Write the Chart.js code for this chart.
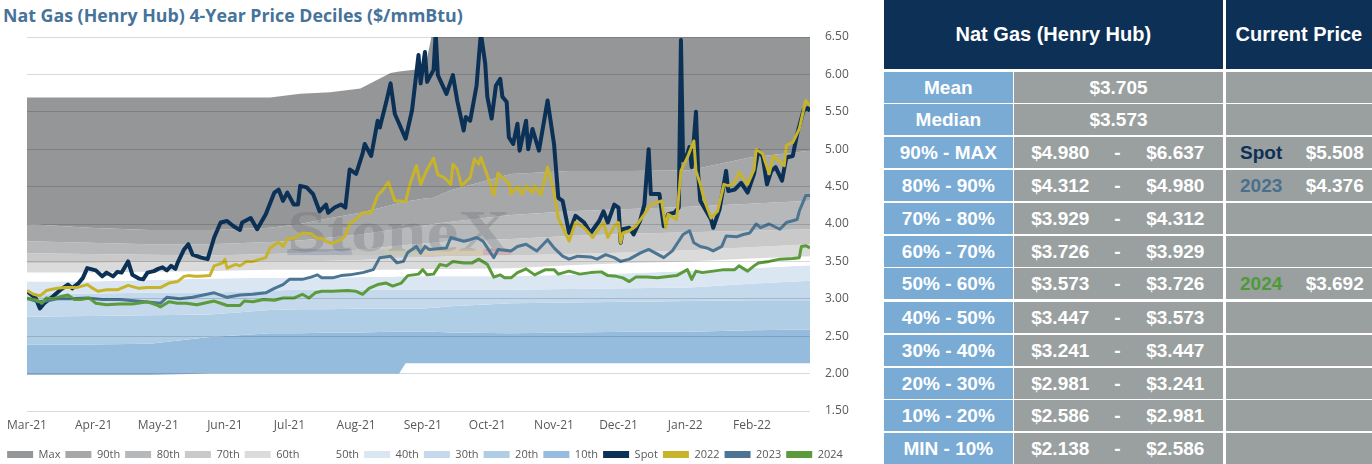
<!DOCTYPE html>
<html>
<head>
<meta charset="utf-8">
<script src="https://cdn.jsdelivr.net/npm/chart.js@4.4.1/dist/chart.umd.min.js"></script>
<style>
  body { margin: 0; width: 1372px; height: 464px; overflow: hidden; background: #fff; position: relative; }
  #title { position: absolute; left: 3px; top: 3px; font: 700 17.8px "Open Sans", sans-serif; color: #46739a; white-space: nowrap; }
  #chart-wrap { position: absolute; left: 0; top: 0; width: 860px; height: 472px; }
  .cell { position: absolute; box-sizing: border-box; color: #fff; font: bold 19px "Liberation Sans", Arial, sans-serif; text-align: center; white-space: nowrap; }
  .hdr { background: #0d3056; font-size: 20px; }
  .lbl { background: #79abd5; }
  .val { background: #9aa0a0; }
  .cell span { position: absolute; top: 0; text-align: center; }
</style>
</head>
<body>
<div id="title">Nat Gas (Henry Hub) 4-Year Price Deciles ($/mmBtu)</div>
<div id="chart-wrap"><canvas id="chart"></canvas></div>
<div id="table"></div>
<script>
// x values are days counted from 1 Mar 2021
const monthDays = [0, 31, 61, 92, 122, 153, 184, 214, 245, 275, 306, 337];
const monthLabels = ['Mar-21', 'Apr-21', 'May-21', 'Jun-21', 'Jul-21', 'Aug-21', 'Sep-21', 'Oct-21', 'Nov-21', 'Dec-21', 'Jan-22', 'Feb-22'];

// decile band boundaries
const bandDays = [0, 29, 57, 85, 113, 127, 141, 155, 169, 173, 176, 185, 189, 197, 225, 252, 280, 308, 336, 364];
const maxP = [5.69, 5.69, 5.69, 5.69, 5.69, 5.74, 5.76, 5.81, 6.02, 6.04, 6.05, 6.08, 6.64, 6.64, 6.64, 6.64, 6.64, 6.64, 6.64, 6.64];
const p90 = [4.00, 3.95, 3.92, 3.92, 3.95, 4.00, 4.08, 4.15, 4.25, 4.28, 4.30, 4.34, 4.35, 4.45, 4.67, 4.71, 4.71, 4.72, 4.89, 4.98];
const p80 = [3.77, 3.75, 3.73, 3.73, 3.76, 3.78, 3.82, 3.86, 3.92, 3.94, 3.95, 3.98, 4.00, 4.03, 4.12, 4.17, 4.20, 4.23, 4.27, 4.31];
const p70 = [3.61, 3.60, 3.59, 3.58, 3.60, 3.61, 3.63, 3.66, 3.70, 3.71, 3.72, 3.74, 3.75, 3.77, 3.80, 3.84, 3.87, 3.89, 3.91, 3.93];
const p60 = [3.48, 3.48, 3.49, 3.49, 3.50, 3.50, 3.51, 3.52, 3.54, 3.55, 3.55, 3.56, 3.56, 3.57, 3.58, 3.60, 3.62, 3.65, 3.69, 3.73];
const p50 = [3.35, 3.35, 3.36, 3.37, 3.39, 3.39, 3.39, 3.39, 3.39, 3.39, 3.40, 3.40, 3.40, 3.40, 3.41, 3.45, 3.48, 3.50, 3.54, 3.57];
const p40 = [3.23, 3.23, 3.25, 3.27, 3.28, 3.28, 3.28, 3.29, 3.29, 3.30, 3.30, 3.30, 3.30, 3.30, 3.30, 3.32, 3.34, 3.37, 3.41, 3.45];
const p30 = [3.06, 3.07, 3.08, 3.08, 3.11, 3.12, 3.12, 3.12, 3.12, 3.12, 3.12, 3.12, 3.12, 3.12, 3.12, 3.13, 3.14, 3.15, 3.20, 3.24];
const p20 = [2.76, 2.77, 2.78, 2.79, 2.85, 2.86, 2.86, 2.87, 2.87, 2.87, 2.87, 2.87, 2.88, 2.90, 2.94, 2.95, 2.96, 2.97, 2.98, 2.98];
const p10 = [2.39, 2.39, 2.40, 2.49, 2.54, 2.54, 2.55, 2.55, 2.56, 2.56, 2.56, 2.56, 2.56, 2.55, 2.54, 2.55, 2.56, 2.56, 2.58, 2.59];
const minP = [1.98, 1.98, 1.98, 2.00, 2.00, 2.00, 2.00, 2.00, 2.00, 2.00, 2.14, 2.14, 2.14, 2.14, 2.14, 2.14, 2.14, 2.14, 2.14, 2.14];

const bandNames = ['Max', '90th', '80th', '70th', '60th', '50th', '40th', '30th', '20th', '10th'];
const bandTops = [maxP, p90, p80, p70, p60, p50, p40, p30, p20, p10];
const bandColors = ['#959698', '#a6a7a9', '#b7b8b9', '#c9c9ca', '#dbdbdb', '#ffffff', '#dae6f2', '#c4d9ec', '#afcde4', '#96bcdd'];

// price lines, [day, $/mmBtu]
const spot = [[0,3.10],[4,3.01],[6,2.87],[8,2.94],[12,3.03],[16,3.13],[19,3.19],[21,3.14],[24,3.21],[26,3.28],[28,3.41],[32,3.38],[35,3.30],[37,3.35],[40,3.30],[42,3.36],[44,3.35],[47,3.50],[49,3.32],[52,3.27],[54,3.26],[56,3.35],[59,3.37],[61,3.40],[63,3.42],[65,3.38],[67,3.44],[69,3.40],[70,3.48],[73,3.66],[75,3.73],[77,3.59],[79,3.57],[81,3.55],[84,3.53],[87,3.82],[90,4.02],[93,4.04],[96,3.97],[99,3.92],[100,4.02],[104,4.08],[107,3.93],[111,4.13],[115,4.42],[117,4.46],[119,4.31],[121,4.42],[124,4.26],[126,4.26],[127,4.51],[130,4.49],[133,4.40],[136,4.17],[139,4.26],[140,4.15],[143,4.22],[146,4.26],[148,4.22],[150,4.73],[153,4.67],[156,4.94],[157,5.07],[160,4.91],[163,5.38],[164,5.29],[167,5.63],[169,5.88],[171,5.47],[173,5.34],[176,5.14],[179,5.52],[182,6.26],[183,5.88],[185,6.30],[186,5.90],[189,6.06],[190,6.55],[191,5.99],[195,5.74],[198,5.99],[200,5.65],[203,5.25],[204,5.43],[206,5.38],[209,5.85],[210,6.21],[211,6.55],[213,6.15],[214,5.70],[216,5.41],[218,5.85],[220,5.94],[221,5.70],[223,5.63],[224,5.16],[226,5.07],[228,5.34],[229,4.98],[232,5.38],[233,5.00],[235,5.27],[238,4.98],[242,5.65],[245,5.07],[247,4.35],[249,4.31],[252,3.88],[255,4.11],[259,4.02],[262,3.88],[266,4.04],[268,4.17],[270,4.02],[273,4.26],[275,4.22],[276,3.75],[277,3.93],[280,3.95],[282,3.86],[285,4.04],[287,4.26],[289,5.00],[290,4.40],[294,4.40],[296,3.97],[298,4.13],[301,4.15],[303,4.22],[304,6.46],[305,4.85],[307,4.94],[308,5.03],[309,4.76],[311,5.50],[312,4.67],[313,4.31],[318,4.06],[319,3.95],[322,4.20],[325,4.71],[326,4.44],[329,4.46],[332,4.55],[335,4.42],[338,4.67],[340,4.98],[342,4.90],[344,4.53],[346,4.71],[348,4.76],[351,4.58],[353,4.89],[356,4.91],[358,5.20],[361,5.52],[363,5.55],[364,5.51]];

const y2022 = [[0,3.11],[3,3.06],[6,3.04],[9,3.11],[14,3.14],[18,3.15],[23,3.15],[28,3.19],[30,3.15],[33,3.10],[37,3.12],[42,3.12],[47,3.18],[52,3.14],[56,3.15],[62,3.15],[66,3.21],[70,3.23],[73,3.30],[75,3.31],[78,3.30],[80,3.30],[85,3.31],[87,3.44],[91,3.48],[92,3.53],[93,3.41],[97,3.46],[99,3.44],[102,3.50],[105,3.50],[111,3.55],[113,3.68],[117,3.76],[119,3.70],[121,3.80],[125,3.82],[128,3.88],[132,3.87],[135,3.81],[137,3.81],[139,3.77],[142,3.74],[146,3.79],[148,3.85],[150,4.00],[153,4.06],[156,4.15],[160,4.15],[163,4.38],[165,4.44],[168,4.56],[171,4.31],[176,4.30],[178,4.53],[181,4.78],[183,4.53],[186,4.73],[189,4.88],[191,4.66],[194,4.62],[197,4.53],[198,4.80],[200,4.73],[202,4.51],[206,4.62],[208,4.87],[210,4.80],[211,4.89],[214,4.65],[217,4.38],[219,4.68],[221,4.62],[224,4.55],[225,4.40],[228,4.50],[230,4.40],[232,4.51],[235,4.42],[236,4.51],[239,4.39],[242,4.76],[244,4.55],[247,4.08],[252,3.77],[255,4.02],[259,3.95],[263,3.82],[268,4.02],[270,3.82],[273,3.97],[275,4.02],[276,3.75],[277,3.88],[280,3.91],[283,3.97],[287,4.13],[290,4.26],[295,4.31],[297,3.95],[298,4.13],[302,4.06],[304,4.71],[307,4.89],[310,5.11],[311,4.71],[313,4.53],[315,4.31],[318,4.08],[321,4.17],[324,4.53],[326,4.51],[329,4.55],[331,4.69],[335,4.53],[338,4.73],[339,5.00],[342,4.94],[345,4.67],[347,4.91],[352,4.78],[353,5.05],[356,5.09],[359,5.27],[362,5.65],[364,5.58]];

const y2023 = [[0,3.01],[5,2.96],[9,2.97],[14,3.00],[20,3.00],[28,3.01],[35,2.99],[43,2.99],[51,2.97],[62,2.94],[65,3.02],[71,3.00],[77,3.02],[87,3.08],[93,3.02],[99,3.05],[105,3.06],[111,3.08],[115,3.14],[119,3.19],[122,3.26],[128,3.26],[132,3.29],[135,3.32],[137,3.28],[142,3.28],[146,3.31],[150,3.32],[156,3.35],[161,3.39],[164,3.55],[169,3.57],[172,3.48],[175,3.50],[177,3.62],[181,3.70],[183,3.61],[185,3.70],[187,3.66],[195,3.68],[197,3.82],[203,3.77],[206,3.79],[209,3.82],[212,3.77],[217,3.55],[219,3.66],[225,3.64],[228,3.70],[232,3.73],[237,3.64],[242,3.79],[245,3.68],[249,3.57],[252,3.53],[256,3.57],[262,3.56],[265,3.53],[269,3.59],[273,3.55],[276,3.50],[280,3.53],[285,3.61],[289,3.66],[296,3.55],[300,3.64],[305,3.86],[308,3.91],[310,3.75],[313,3.70],[316,3.68],[319,3.64],[323,3.70],[325,3.84],[330,3.83],[333,3.86],[336,3.88],[339,4.00],[341,3.95],[345,4.00],[350,3.93],[353,4.02],[358,4.06],[359,4.17],[362,4.38],[364,4.38]];

const y2024 = [[0,3.00],[4,2.99],[7,2.94],[9,3.01],[12,3.00],[16,3.03],[19,3.05],[22,2.99],[25,2.99],[29,3.01],[32,2.94],[37,2.92],[43,2.93],[49,2.93],[56,2.96],[60,2.92],[62,2.89],[66,2.96],[70,2.94],[74,2.94],[79,2.92],[87,2.97],[90,2.94],[93,2.91],[99,2.91],[101,2.97],[105,2.96],[110,2.99],[115,2.98],[119,3.01],[124,3.01],[128,3.06],[131,3.01],[134,3.08],[137,3.10],[142,3.10],[149,3.11],[153,3.10],[156,3.06],[159,3.14],[163,3.19],[167,3.21],[170,3.17],[174,3.21],[177,3.31],[182,3.33],[184,3.39],[186,3.32],[189,3.33],[192,3.46],[195,3.44],[198,3.50],[203,3.48],[207,3.48],[210,3.53],[214,3.46],[217,3.29],[220,3.32],[222,3.28],[225,3.28],[228,3.35],[232,3.40],[236,3.32],[241,3.39],[245,3.39],[247,3.33],[252,3.37],[257,3.33],[262,3.35],[267,3.36],[270,3.31],[274,3.30],[277,3.28],[280,3.23],[283,3.29],[288,3.29],[293,3.28],[296,3.29],[302,3.31],[307,3.39],[309,3.26],[311,3.37],[314,3.35],[319,3.37],[324,3.39],[329,3.39],[331,3.44],[335,3.37],[338,3.44],[340,3.48],[345,3.50],[350,3.53],[356,3.54],[359,3.55],[360,3.70],[362,3.71],[364,3.68]];

// table values
const statLabels = ['Mean', 'Median'];
const statValues = [3.705, 3.573];
const rangeLabels = ['90% - MAX', '80% - 90%', '70% - 80%', '60% - 70%', '50% - 60%', '40% - 50%', '30% - 40%', '20% - 30%', '10% - 20%', 'MIN - 10%'];
const rangeLow = [4.980, 4.312, 3.929, 3.726, 3.573, 3.447, 3.241, 2.981, 2.586, 2.138];
const rangeHigh = [6.637, 4.980, 4.312, 3.929, 3.726, 3.573, 3.447, 3.241, 2.981, 2.586];
const currentNames = ['Spot', '2023', '2024'];
const currentValues = [5.508, 4.376, 3.692];
const currentRows = [0, 1, 4];
const currentColors = ['#0d3056', '#4a6f8d', '#4e9a3a'];

(function() {
  // ---- table ----
  const table = document.getElementById('table');
  const colL = [884, 1014.3, 1225.7];
  const colW = [128.7, 208.4, 146.3];
  function cell(cls, left, top, width, height, html) {
    const d = document.createElement('div');
    d.className = 'cell ' + cls;
    d.style.left = left + 'px';
    d.style.top = top + 'px';
    d.style.width = width + 'px';
    d.style.height = height + 'px';
    d.style.lineHeight = height + 'px';
    d.innerHTML = html;
    table.appendChild(d);
    return d;
  }
  const money = v => '$' + v.toFixed(3);
  cell('hdr', colL[0], 0, colL[1] + colW[1] - colL[0], 69, 'Nat Gas (Henry Hub)');
  cell('hdr', colL[2], 0, colW[2], 69, 'Current Price');

  const statTops = [71.5, 104];
  statLabels.forEach((lab, i) => {
    cell('lbl', colL[0], statTops[i], colW[0], 31.2, lab);
    cell('val', colL[1], statTops[i], colW[1], 31.2, money(statValues[i]));
    cell('val', colL[2], statTops[i], colW[2], 31.2, '');
  });

  rangeLabels.forEach((lab, i) => {
    const top = 137.3 + i * 32.75 + (i >= 5 ? 1 : 0);
    cell('lbl', colL[0], top, colW[0], 31.2, lab);
    cell('val', colL[1], top, colW[1], 31.2,
      '<span style="left:0;width:92px">' + money(rangeLow[i]) + '</span>' +
      '<span style="left:93px;width:20px">-</span>' +
      '<span style="left:120px;width:82px">' + money(rangeHigh[i]) + '</span>');
    const k = currentRows.indexOf(i);
    cell('val', colL[2], top, colW[2], 31.2, k < 0 ? '' :
      '<span style="left:0;width:71px;color:' + currentColors[k] + '">' + currentNames[k] + '</span>' +
      '<span style="left:74px;width:70px">' + money(currentValues[k]) + '</span>');
  });

  // ---- chart ----
  const toPts = (days, vals) => days.map((d, i) => ({ x: d, y: vals[i] }));
  const pairPts = arr => arr.map(p => ({ x: p[0], y: p[1] }));

  const datasets = [];
  bandNames.forEach((name, i) => {
    datasets.push({
      label: name,
      data: toPts(bandDays, bandTops[i]),
      backgroundColor: bandColors[i],
      borderWidth: 0,
      pointRadius: 0,
      fill: '+1',
      order: 10,
      yAxisID: 'y',
    });
  });
  datasets.push({
    label: 'Min',
    data: toPts(bandDays, minP),
    backgroundColor: 'rgba(0,0,0,0)',
    borderWidth: 0,
    pointRadius: 0,
    fill: false,
    order: 10,
    yAxisID: 'y',
  });
  const lines = [
    { label: 'Spot', data: spot, color: '#0c3157', width: 4, order: 3 },
    { label: '2022', data: y2022, color: '#c8b42a', width: 3, order: 2 },
    { label: '2023', data: y2023, color: '#4b7592', width: 3, order: 1 },
    { label: '2024', data: y2024, color: '#5b9b3c', width: 3, order: 0 },
  ];
  lines.forEach(l => {
    datasets.push({
      label: l.label,
      data: pairPts(l.data),
      borderColor: l.color,
      backgroundColor: l.color,
      borderWidth: l.width,
      borderJoinStyle: 'round',
      pointRadius: 0,
      fill: false,
      tension: 0,
      order: l.order,
      yAxisID: 'y',
    });
  });

  // faint StoneX mark sitting over the bands, under the price lines
  const watermark = {
    id: 'watermark',
    afterDatasetDraw(chart, args) {
      if (args.index !== 0) return;
      const { ctx, scales: { x, y } } = chart;
      const left = x.getPixelForValue(121);
      const right = x.getPixelForValue(224.5);
      const base = y.getPixelForValue(3.84);
      ctx.save();
      ctx.font = 'bold 60px "Liberation Serif"';
      const w = ctx.measureText('StoneX').width;
      ctx.translate(left, base);
      ctx.scale((right - left) / w, 1);
      ctx.fillStyle = 'rgba(80,85,95,0.22)';
      ctx.fillText('StoneX', 0, 0);
      ctx.restore();
      const segs = [[121, 151, 'rgba(80,100,135,0.25)'], [151, 166, 'rgba(150,150,150,0.12)'], [166, 182, 'rgba(190,200,120,0.25)'], [182, 212, 'rgba(235,205,120,0.3)'], [212, 225, 'rgba(225,120,125,0.3)']];
      const top = y.getPixelForValue(3.665);
      const bot = y.getPixelForValue(3.585);
      segs.forEach(s => {
        ctx.fillStyle = s[2];
        const a = x.getPixelForValue(s[0]);
        ctx.fillRect(a, top, x.getPixelForValue(s[1]) - a, bot - top);
      });
    }
  };

  const font = { family: '"Open Sans", sans-serif', size: 12 };
  new Chart(document.getElementById('chart').getContext('2d'), {
    type: 'line',
    data: { datasets: datasets },
    options: {
      responsive: true,
      maintainAspectRatio: false,
      animation: false,
      layout: { padding: { left: 0, top: 37, right: 10, bottom: 2 } },
      plugins: {
        tooltip: { enabled: false },
        legend: {
          position: 'bottom',
          labels: {
            boxWidth: 26,
            boxHeight: 7,
            padding: 5,
            color: '#595959',
            font: { family: '"Open Sans", sans-serif', size: 11 },
            filter: item => item.text !== 'Min',
            sort: (a, b) => a.datasetIndex - b.datasetIndex,
            generateLabels: chart => Chart.defaults.plugins.legend.labels.generateLabels(chart)
              .map(item => Object.assign(item, { lineWidth: 0 })),
          },
        },
      },
      scales: {
        x: {
          type: 'linear',
          min: 0,
          max: 364,
          grid: { display: false, drawTicks: false },
          border: { display: false },
          afterBuildTicks: axis => { axis.ticks = monthDays.map(d => ({ value: d })); },
          afterFit: s => { s.height = 33; },
          ticks: {
            autoSkip: false,
            maxRotation: 0,
            padding: 7,
            color: '#595959',
            font: font,
            callback: v => monthLabels[monthDays.indexOf(v)],
          },
        },
        y: {
          position: 'right',
          min: 1.5,
          max: 6.5,
          grid: { color: 'rgba(0,0,0,0.15)', drawTicks: false, z: 1 },
          border: { display: false },
          afterFit: s => { s.width = 40; },
          ticks: {
            stepSize: 0.5,
            padding: 15,
            color: '#595959',
            font: font,
            callback: v => v.toFixed(2),
          },
        },
        // empty left gutter so the plot starts where the original does
        gutter: {
          position: 'left',
          grid: { display: false },
          border: { display: false },
          ticks: { display: false },
          afterFit: s => { s.width = 27; },
        },
      },
    },
    plugins: [watermark],
  });
})();
</script>
</body>
</html>
